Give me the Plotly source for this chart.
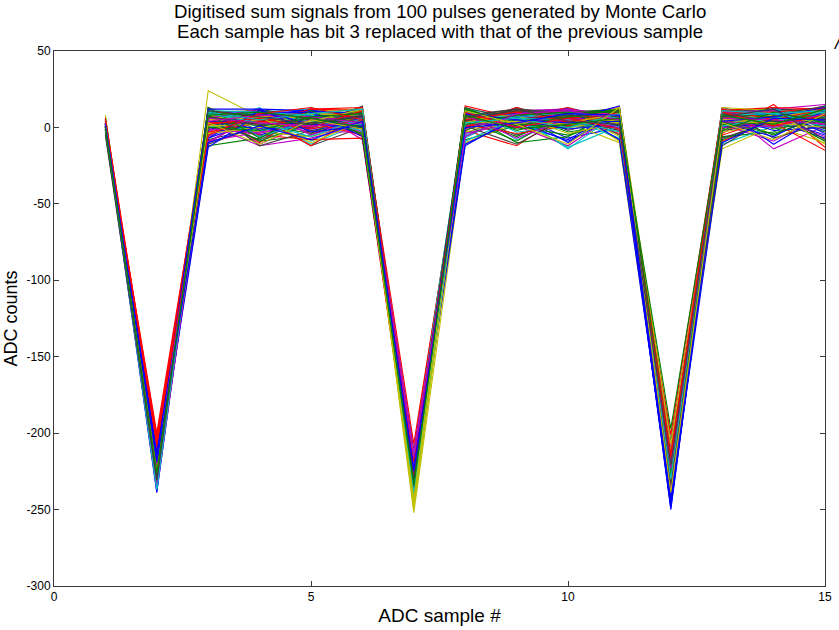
import plotly.graph_objects as go

# ADC sample index (x axis)
sample_no = list(range(1, 16))

adc_s01 = [3, 0, -2, 5, 1, 4, -1, 2, 6, 0,
           -3, 2, 1, 4, -1, 3, 0, 7, 2, -2,
           1, 5, -4, 2, 0, 3, 1, -1, 4, 2,
           0, -2, 3, 6, 1, -1, 2, 0, 4, -3,
           8, 1, -1, 3, 2, 0, 5, -2, 1, 3,
           2, -1, 4, 0, 1, 6, -2, 3, 1, 0,
           -1, 2, 5, 1, -4, 3, 0, 2, 4, -1,
           1, 3, 0, -2, 2, 5, 1, 0, 3, -1,
           4, 0, 2, -3, 1, 2, 6, 0, -1, 3,
           2, 1, -2, 4, 0, 3, 1, -5, 2, 0]
adc_s02 = [-224, -219, -205, -231, -216, -228, -221, -236, -213, -200,
           -226, -218, -232, -215, -222, -229, -207, -219, -238, -224,
           -217, -230, -223, -209, -234, -220, -227, -214, -225, -231,
           -203, -222, -228, -216, -235, -219, -226, -211, -229, -221,
           -225, -217, -239, -233, -206, -222, -218, -230, -227, -215,
           -221, -208, -229, -224, -216, -231, -220, -226, -204, -219,
           -233, -222, -217, -228, -225, -210, -236, -221, -218, -230,
           -224, -227, -202, -219, -232, -223, -215, -229, -221, -209,
           -218, -235, -226, -222, -213, -230, -206, -224, -220, -227,
           -229, -216, -223, -207, -237, -221, -225, -231, -219, -226]
adc_s03 = [8, 12, 3, -6, 10, 5, 1, 13, -2, 7,
           4, -9, 11, 6, 0, 9, -4, 12, 2, 8,
           -11, 5, 10, 3, 7, -1, 13, 6, -7, 9,
           2, 11, -3, 8, 4, 10, -12, 7, 1, 12,
           6, -5, 9, 3, 11, 0, 8, 24, -8, 5,
           10, 2, 7, -10, 12, 4, -2, 9, 6, 1,
           -6, 8, 13, 3, 0, 11, 5, -9, 7, 10,
           4, 9, -3, 12, 6, 1, 10, -13, 8, 3,
           11, -1, 5, 7, -7, 13, 2, 9, 4, -4,
           7, 12, 0, -5, 10, 6, 3, 11, -10, 8]
adc_s04 = [3, -2, 8, 10, -11, 1, 6, -5, 12, 4,
           -8, 7, 2, 11, -3, 5, 9, 0, -12, 6,
           1, 10, -6, 4, 8, -1, 3, 12, 5, -9,
           7, 0, 11, -4, 2, 9, -7, 6, 13, 1,
           -3, 5, 8, 2, -10, 11, 4, 7, 0, 9,
           6, -5, 1, 10, 3, -8, 12, 2, 8, -2,
           9, 4, -12, 6, 0, 7, 10, -3, 5, 11,
           -1, 8, 3, -6, 12, 2, 5, 9, -9, 4,
           10, -4, 7, 1, 11, -7, 6, 3, 8, 0,
           2, 12, -2, 9, 5, 3, -11, 7, 1, 10]
adc_s05 = [7, 1, -4, 12, 3, 9, -12, 5, 0, 10,
           2, 11, 6, -3, 8, 0, 4, 13, -7, 5,
           9, -1, 3, 7, -11, 12, 1, 6, 10, -5,
           4, 8, 0, 11, 5, -2, 9, 3, -9, 7,
           -6, 10, 6, 2, 12, 4, -3, 8, 1, 11,
           5, -8, 9, 3, 0, 7, 11, -4, 6, 2,
           10, 3, -2, 8, 6, -12, 4, 1, 9, 5,
           0, 7, 12, 4, -5, 9, 2, 10, 3, -1,
           8, 5, -10, 6, 2, 11, 0, -6, 7, 4,
           3, -3, 7, 13, 9, 1, 5, 2, -8, 6]
adc_s06 = [5, 10, 2, -3, 8, 12, 0, 6, 9, -6,
           11, 3, 7, 1, -1, 9, 13, 4, 2, 8,
           -4, 6, 10, 5, 3, -8, 7, 11, 0, 9,
           8, 2, -2, 12, 6, 4, 10, -5, 7, 1,
           3, 9, 5, 0, 11, 7, -3, 4, 14, 6,
           10, -7, 8, 3, 5, 1, 9, 12, -1, 4,
           6, 11, 0, 7, -4, 10, 2, 5, 8, 3,
           9, 4, 13, -2, 6, 8, 1, -6, 10, 5,
           2, 7, 4, 10, 0, -5, 11, 6, 3, 12,
           7, 1, 9, 5, 12, 3, -1, 8, 4, 0]
adc_s07 = [-231, -225, -219, -238, -227, -246, -222, -234, -214, -229,
           -220, -236, -244, -211, -240, -230, -224, -217, -233, -226,
           -235, -223, -229, -218, -241, -232, -252, -227, -221, -237,
           -207, -230, -225, -245, -219, -233, -228, -236, -222, -240,
           -243, -226, -232, -220, -237, -215, -229, -248, -224, -234,
           -228, -239, -217, -231, -247, -225, -236, -222, -230, -219,
           -233, -242, -226, -238, -221, -229, -235, -212, -240, -227,
           -224, -231, -237, -218, -229, -244, -226, -233, -222, -238,
           -230, -221, -246, -235, -227, -232, -219, -241, -228, -249,
           -236, -223, -231, -227, -239, -216, -243, -230, -225, -234]
adc_s08 = [9, 4, -2, 12, 6, 0, 10, 3, -8, 7,
           1, 11, 5, 8, -4, 13, 2, 6, 10, -1,
           7, -6, 9, 3, 12, 5, -10, 8, 4, 11,
           3, 10, 6, -3, 1, 9, 7, 14, -5, 2,
           11, 0, 8, 5, 10, -7, 3, 6, 9, 4,
           -2, 7, 12, 1, 4, 8, -12, 10, 5, 6,
           8, 3, 0, 11, 7, 2, 9, -4, 6, 13,
           5, 12, 4, -9, 9, 6, 1, 8, 11, 0,
           10, -1, 7, 4, -11, 12, 5, 2, 8, 3,
           6, 9, 2, 10, 3, -6, 11, 7, 0, 8]
adc_s09 = [4, 10, -12, 7, 2, 11, 5, 8, 1, 9,
           12, 3, 6, -5, 9, 0, 13, 4, 7, 2,
           5, 8, 1, 11, -8, 6, 3, 10, 12, -2,
           9, 0, 7, 4, 13, 2, -6, 6, 8, 11,
           3, 12, 5, -9, 7, 10, 1, 4, 6, 0,
           10, 6, -3, 8, 2, 12, 7, -10, 5, 9,
           1, 11, 8, 4, 10, -4, 6, 3, 12, 5,
           7, 2, 11, 6, 0, 8, -11, 9, 4, 13,
           6, 9, 3, 12, 5, 1, 10, 7, -7, 4,
           11, 5, 8, 0, 6, 9, 2, 12, 3, -1]
adc_s10 = [6, -3, 9, 12, 4, 1, 8, -7, 10, 3,
           0, 7, 11, 5, -10, 8, 2, 13, 6, -1,
           9, 4, -5, 10, 7, 3, 12, 0, 1, 6,
           2, 11, 8, 1, 5, -8, 9, 6, -14, 12,
           7, -2, 3, 10, 13, 6, -12, 8, 1, 5,
           11, 5, 0, 7, 3, 9, 4, -6, 12, 8,
           4, 8, 12, -9, 6, 1, 10, 5, 2, 7,
           10, 0, 6, -13, 11, -4, 7, 12, 8, 3,
           5, 12, 2, 9, -1, 7, 4, 10, 6, 3,
           8, 3, 10, 6, 0, 11, -11, 4, 9, 2]
adc_s11 = [8, 2, 11, -3, 6, 13, 4, 0, 9, 5,
           3, 10, -6, 7, 12, 1, 8, 5, -2, 11,
           12, 6, 4, 9, 0, 7, -9, 10, 3, 8,
           5, -1, 13, 2, 8, 11, 6, -4, 10, 1,
           9, 7, 0, 12, 4, -7, 10, 3, 6, 14,
           1, 11, 8, 5, -10, 9, 2, 12, 7, 4,
           10, 3, -5, 8, 11, 6, 0, 9, 13, -2,
           6, 12, 9, 1, 7, 3, 11, -8, 4, 10,
           -3, 8, 5, 11, 2, 12, 7, 6, 0, 9,
           7, 4, 10, -1, 9, 5, 13, 2, 8, 6]
adc_s12 = [-243, -222, -215, -230, -226, -219, -233, -247, -211, -228,
           -224, -217, -231, -205, -240, -226, -220, -235, -213, -229,
           -218, -245, -227, -221, -236, -210, -232, -224, -249, -216,
           -230, -223, -214, -234, -219, -242, -227, -201, -225, -233,
           -222, -231, -246, -217, -228, -224, -236, -212, -229, -244,
           -215, -233, -226, -220, -238, -229, -241, -218, -232, -225,
           -229, -221, -235, -244, -216, -227, -223, -231, -207, -234,
           -248, -226, -219, -232, -224, -237, -221, -243, -228, -214,
           -225, -236, -222, -228, -246, -218, -233, -226, -220, -231,
           -234, -250, -227, -216, -230, -223, -239, -221, -245, -197]
adc_s13 = [5, 9, -4, 11, 2, 7, 13, 0, 8, -9,
           10, 3, 6, 1, 12, -6, 4, 9, 7, 2,
           -2, 11, 8, 5, 0, 10, -14, 6, 3, 12,
           7, 4, 13, -3, 9, 2, 6, 11, 1, 8,
           3, 12, 0, 8, 6, -11, 10, 4, 9, 5,
           11, -5, 7, 2, 10, 4, 8, -1, 12, 6,
           6, 9, 3, 12, -8, 7, 1, 10, 5, 0,
           8, 2, 11, 6, 4, 13, -7, 3, 9, 10,
           1, 10, 5, -12, 7, 3, 12, 8, 0, 6,
           9, 4, -2, 10, 11, 6, 3, 7, -10, 8]
adc_s14 = [3, 8, 15, 0, -9, 11, 6, 2, 9, 5,
           10, 1, 6, 12, 4, -3, 8, 0, 11, 7,
           2, 9, -5, 7, 3, 12, 1, 10, 6, -1,
           8, 4, -14, 2, 11, 6, 9, 5, 0, 12,
           5, -7, 3, 9, 7, 1, 10, 4, 13, 6,
           12, 6, 0, 4, 10, 8, -2, 11, 3, 7,
           1, 10, 7, -11, 5, 2, 12, 6, 8, 4,
           9, 3, 13, 6, 0, 11, 4, -6, 7, 10,
           6, 11, 2, 8, 12, -4, 5, 9, 1, 3,
           4, 7, 10, 1, 9, 5, -8, 12, 6, 2]
adc_s15 = [7, 12, -13, 4, 9, 1, 14, 6, -3, 10,
           2, 8, 5, 11, -7, 13, 3, 9, 0, 6,
           11, -2, 9, 6, 14, 3, -10, 8, 12, 4,
           5, 10, 1, 13, 7, -5, 11, 2, 8, 15,
           9, 3, 12, -9, 5, 10, 6, 13, 1, 7,
           -1, 11, 7, 4, 12, 8, 0, 10, -15, 5,
           13, 6, 2, 9, 3, 11, 7, -6, 10, 4,
           4, 9, 12, 1, 8, -11, 5, 11, 6, 13,
           10, 2, 6, 14, -4, 7, 12, 3, 9, 0,
           6, 13, 3, 8, 11, 2, 9, -8, 5, 12]

samples = [adc_s01, adc_s02, adc_s03, adc_s04, adc_s05, adc_s06, adc_s07, adc_s08,
           adc_s09, adc_s10, adc_s11, adc_s12, adc_s13, adc_s14, adc_s15]

# classic line colour order, cycled per pulse
line_colours = ["rgb(0,0,255)", "rgb(0,128,0)", "rgb(255,0,0)", "rgb(0,191,191)",
                "rgb(191,0,191)", "rgb(191,191,0)", "rgb(64,64,64)"]

x_ticks = [0, 5, 10, 15]
y_ticks = [-300, -250, -200, -150, -100, -50, 0, 50]

fig = go.Figure()
n_pulses = len(adc_s01)
for p in range(n_pulses):
    fig.add_trace(go.Scatter(
        x=sample_no,
        y=[s[p] for s in samples],
        mode="lines",
        line=dict(color=line_colours[p % len(line_colours)], width=1.1),
        hoverinfo="skip",
        showlegend=False,
    ))

font_family = "Liberation Sans, Arial, sans-serif"
axis_font = dict(family=font_family, size=12, color="black")
axis_common = dict(
    showline=True, linecolor="#3a3a3a", linewidth=1, mirror="ticks",
    ticks="inside", ticklen=5, tickcolor="#3a3a3a", tickwidth=1,
    showgrid=False, zeroline=False, tickfont=axis_font,
)

fig.update_layout(
    width=839, height=630,
    margin=dict(l=54, r=7, t=51, b=42),
    paper_bgcolor="white", plot_bgcolor="white",
    xaxis=dict(range=[0, 15], tickvals=x_ticks, ticktext=[str(v) for v in x_ticks],
               title=dict(text="ADC sample #", standoff=5,
                          font=dict(family=font_family, size=19, color="black")),
               **axis_common),
    yaxis=dict(range=[-300, 50], tickvals=y_ticks, ticktext=[str(v) for v in y_ticks],
               title=dict(text="ADC counts", standoff=4,
                          font=dict(family=font_family, size=18, color="black")),
               **axis_common),
)

title_font = dict(family=font_family, size=18.6, color="black")
fig.add_annotation(text="Digitised sum signals from 100 pulses generated by Monte Carlo",
                   xref="paper", yref="paper", x=0.5, y=1, yshift=27,
                   xanchor="center", yanchor="bottom", showarrow=False, font=title_font)
fig.add_annotation(text="Each sample has bit 3 replaced with that of the previous sample",
                   xref="paper", yref="paper", x=0.5, y=1, yshift=7,
                   xanchor="center", yanchor="bottom", showarrow=False, font=title_font)
fig.add_annotation(text="<i>/</i>", xref="paper", yref="paper", x=1, y=1, xshift=6, yshift=-4,
                   xanchor="left", yanchor="bottom", showarrow=False, font=title_font)

fig.write_html("out.html")
